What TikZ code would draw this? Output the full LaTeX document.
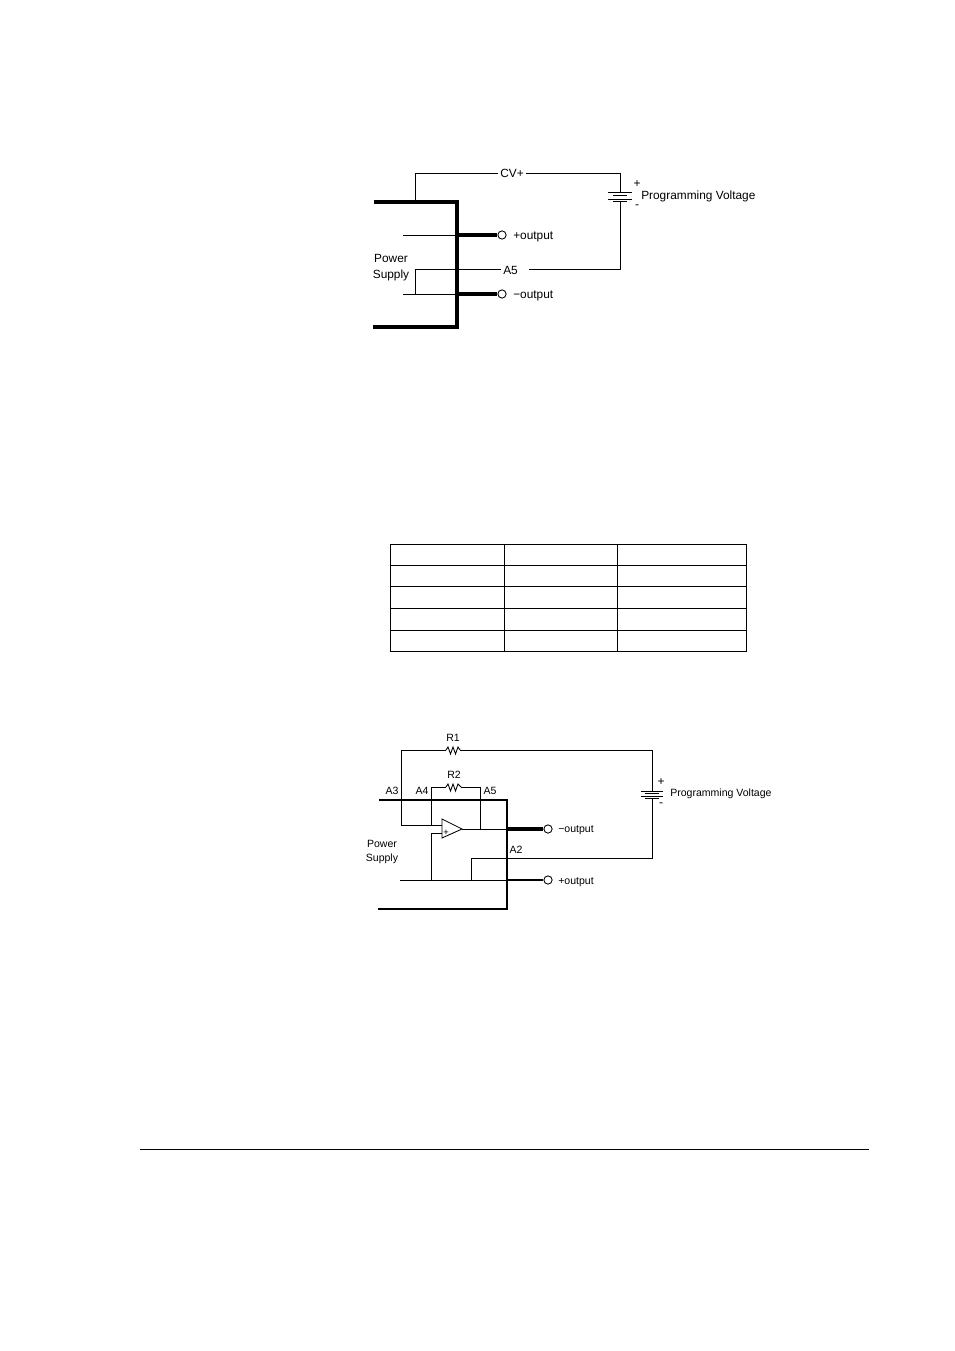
\documentclass[tikz,border=0pt]{standalone}
\usepackage{fontspec}
\setmainfont{Liberation Sans}
\usetikzlibrary{calc}
\tikzset{
  wire/.style={line width=0.65pt},
  bus/.style={line width=2.6pt},
  frame/.style={line width=2.1pt},
  grid/.style={line width=0.65pt},
  lab/.style={inner sep=0pt, font=\fontsize{8.9pt}{10pt}\selectfont},
  labs/.style={inner sep=0pt, font=\fontsize{7.9pt}{9pt}\selectfont},
  gap/.style={inner sep=1.5pt, font=\fontsize{8.9pt}{10pt}\selectfont},
  sign/.style={inner sep=0pt, font=\fontsize{9pt}{9pt}\selectfont},
  term/.style={circle, draw, line width=0.65pt, fill=white, minimum size=6.2pt, inner sep=0pt}
}
\begin{document}
\begin{tikzpicture}[x=0.75pt,y=-0.75pt]
\useasboundingbox (0,0) rectangle (954,1351);

% upper circuit
\coordinate (TL) at (374,202); \coordinate (TR) at (457,202);
\coordinate (BR) at (457,327); \coordinate (BL) at (373,327);
\draw[bus, line join=miter] (TL) -- (TR) -- (BR) -- (BL);

\node[gap] (CV) at (512,173) {CV+};
\node[gap, anchor=west] (AF) at (501,270) {A5\hphantom{C}};
\node[term] (PO) at (502,235) {};
\node[term] (MO) at (502,294) {};
\node[lab, anchor=west] (POL) at (513,237) {+output};
\node[lab, anchor=west] (MOL) at (513,296) {−output};
\node[lab] (PS) at (391,258) {Power};
\node[lab] (SU) at (391,275) {Supply};
\node[lab, anchor=west] (PV) at (641,196) {Programming Voltage};
\node[sign] (BP) at (637,184) {+};
\node[sign] (BM) at (637,207) {-};

\coordinate (CA) at (415,202); \coordinate (CB) at (415,173);
\coordinate (CC) at (620,173); \coordinate (CD) at (620,192);
\coordinate (DA) at (620,201); \coordinate (DB) at (620,269);
\coordinate (DC) at (415,269); \coordinate (DD) at (415,294);
\coordinate (PA) at (403,235); \coordinate (PB) at (457,235);
\coordinate (MA) at (403,294); \coordinate (MB) at (457,294);

\draw[wire] (CA) -- (CB) -- (CV);
\draw[wire] (CV) -- (CC) -- (CD);
\draw[wire] (DA) -- (DB) -- (AF.east |- DB);
\draw[wire] (AF.west |- DC) -- (DC) -- (DD);
\draw[wire] (PA) -- (PB);
\draw[wire] (MA) -- (MB);
\draw[bus] (PB) -- (PO);
\draw[bus] (MB) -- (MO);

% battery of upper circuit
\draw[wire] ($(CD)+(-12,0)$) -- ($(CD)+(12,0)$);
\draw[wire] ($(CD)+(-7,3)$) -- ($(CD)+(7,3)$);
\draw[wire] ($(CD)+(-12,7)$) -- ($(CD)+(12,7)$);
\draw[wire] ($(DA)+(-7,0)$) -- ($(DA)+(7,0)$);

% table
\coordinate (GA) at (390,544); \coordinate (GB) at (746,651);
\draw[grid] (GA) rectangle (GB);
\draw[grid] (504,544) -- (504,651);
\draw[grid] (617,544) -- (617,651);
\draw[grid] (390,565) -- (746,565);
\draw[grid] (390,586) -- (746,586);
\draw[grid] (390,608) -- (746,608);
\draw[grid] (390,630) -- (746,630);

% lower circuit
\coordinate (UL) at (379,800); \coordinate (UR) at (507,800);
\coordinate (LR) at (507,909); \coordinate (LL) at (378,909);
\draw[frame, line join=miter] (UL) -- (UR) -- (LR) -- (LL);

\node[term] (NO) at (548,829) {};
\node[term] (PU) at (548,880) {};
\node[labs, anchor=west] (NOL) at (558,830) {−output};
\node[labs, anchor=west] (PUL) at (558,882) {+output};
\node[labs] (RA) at (453,738) {R1};
\node[labs] (RB) at (454,775) {R2};
\node[labs] (AT) at (392,791) {A3};
\node[labs] (AV) at (422,791) {A4};
\node[labs] (AW) at (490,791) {A5};
\node[labs] (AX) at (516,850) {A2};
\node[labs] (PW) at (382,844) {Power};
\node[labs] (SP) at (382,859) {Supply};
\node[labs, anchor=west] (PG) at (670,794) {Programming Voltage};
\node[sign] (BQ) at (661,782) {+};
\node[sign] (BN) at (661,805) {-};

\coordinate (OA) at (442,819); \coordinate (OB) at (442,838); \coordinate (OC) at (462,829);
\draw[wire] (OA) -- (OB) -- (OC) -- cycle;
\node[inner sep=0pt, font=\fontsize{7pt}{7pt}\selectfont] (OP) at (446,833) {+};

\coordinate (WA) at (401,750); \coordinate (WB) at (401,825); \coordinate (WC) at (442,825);
\coordinate (WD) at (446,750); \coordinate (WE) at (460,750);
\coordinate (WF) at (652,750); \coordinate (WG) at (652,791);
\coordinate (WH) at (652,798); \coordinate (WI) at (652,858);
\coordinate (WJ) at (471,858); \coordinate (WK) at (471,880);
\coordinate (XA) at (431,825); \coordinate (XB) at (431,787);
\coordinate (XC) at (446,787); \coordinate (XD) at (461,787);
\coordinate (XE) at (480,787); \coordinate (XF) at (480,829);
\coordinate (XG) at (507,829);
\coordinate (YA) at (442,833); \coordinate (YB) at (431,833); \coordinate (YC) at (431,880);
\coordinate (ZA) at (400,880); \coordinate (ZB) at (507,880);

\draw[wire] (WD) -- (WA) -- (WB) -- (WC);
\draw[wire] (WE) -- (WF) -- (WG);
\draw[wire] (WH) -- (WI) -- (WJ) -- (WK);
\draw[wire] (XA) -- (XB) -- (XC);
\draw[wire] (XD) -- (XE) -- (XF);
\draw[wire] (OC) -- (XG);
\draw[wire] (YA) -- (YB) -- (YC);
\draw[wire] (ZA) -- (ZB);
\draw[bus] (XG) -- (NO);
\draw[line width=1.6pt] (ZB) -- (PU);

% resistors
\draw[wire] (WD) -- ++(2,-3) -- ++(2.5,7) -- ++(2.5,-7) -- ++(2.5,7) -- ++(2.5,-7) -- (WE);
\draw[wire] (XC) -- ++(2,-3) -- ++(2.5,7) -- ++(2.5,-7) -- ++(2.5,7) -- ++(2.5,-7) -- (XD);

% battery of lower circuit
\draw[wire] ($(WG)+(-11,0)$) -- ($(WG)+(11,0)$);
\draw[wire] ($(WG)+(-7,2.5)$) -- ($(WG)+(7,2.5)$);
\draw[wire] ($(WG)+(-11,5)$) -- ($(WG)+(11,5)$);
\draw[wire] ($(WH)+(-7,0)$) -- ($(WH)+(7,0)$);

% page rule
\coordinate (RL) at (140,1149); \coordinate (RR) at (869,1149);
\draw[wire] (RL) -- (RR);
\end{tikzpicture}
\end{document}
